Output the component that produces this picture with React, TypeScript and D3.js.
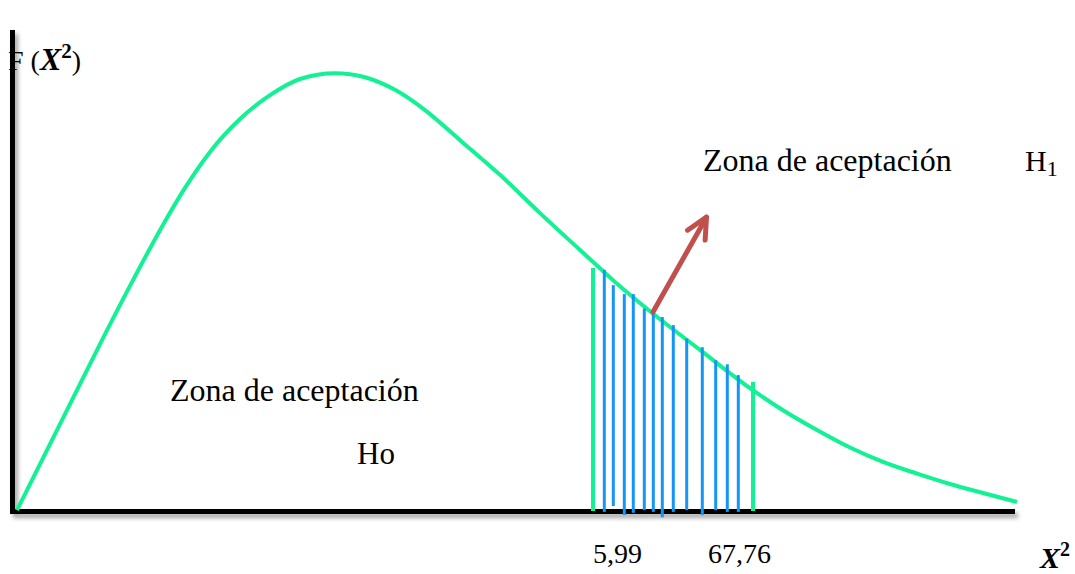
import React from "react";
import * as d3 from "d3";

// Density curve F(X²) (abstract units)
const curveX = [2, 45, 85, 118, 145, 170, 195, 225, 255, 285, 320, 350, 380, 410, 445, 485, 525, 565, 600, 635, 685, 735, 768, 802, 835, 868, 902, 935, 968, 1002];
const curveY = [0.2, 19.3, 37.1, 51.3, 62.4, 71.8, 79.8, 87.1, 92.4, 96.0, 97.3, 96.4, 93.6, 89.1, 82.4, 74.7, 66.2, 58.0, 50.9, 44.4, 35.8, 27.3, 22.4, 18.0, 14.1, 10.9, 8.3, 6.0, 4.0, 2.0];

// Boundaries of the rejection region (green)
const boundaryX = [578, 738];
const boundaryTop = [54.0, 28.7];

// Hatch lines (blue)
const hatchX = [589.3, 598.3, 609.3, 618.3, 629.3, 638.3, 647.3, 658.3, 671.7, 687.3, 700.7, 712.3, 723.3];
const hatchTop = [53.6, 50.2, 48.2, 48.2, 45.0, 44.6, 43.1, 41.3, 38.3, 36.4, 33.5, 32.6, 30.2];
const hatchBottom = [-0.2, 1.1, -0.9, -0.4, 0.2, -0.2, -1.4, -0.2, 0.2, -0.9, 0.2, -0.2, -0.2];

// Arrow (from curve to upper label)
const arrowFrom = [638, 44.2];
const arrowTo = [691.5, 65.3];

// Tick labels
const tickLabels = ["5,99", "67,76"];
const tickLabelX = [578, 693];

const W = 1075;
const H = 574;

export default function App() {
  const x = d3.scaleLinear().domain([0, 1000]).range([15, 1015]);
  const y = d3.scaleLinear().domain([0, 100]).range([511, 61]);

  const line = d3
    .line<number>()
    .x((_, i) => x(curveX[i]))
    .y((d) => y(d))
    .curve(d3.curveMonotoneX);

  const green = "#12f294";
  const blue = "#1596f5";
  const arrowColor = "#c0504d";

  const ax0 = x(arrowFrom[0]);
  const ay0 = y(arrowFrom[1]);
  const ax1 = x(arrowTo[0]);
  const ay1 = y(arrowTo[1]);
  const ang = Math.atan2(ay0 - ay1, ax0 - ax1);
  const armLen = 23;
  const spread = (26 * Math.PI) / 180;
  const arm1 = [ax1 + armLen * Math.cos(ang + spread), ay1 + armLen * Math.sin(ang + spread)];
  const arm2 = [ax1 + armLen * Math.cos(ang - spread), ay1 + armLen * Math.sin(ang - spread)];

  const serif = "'Liberation Serif', 'Times New Roman', serif";

  return (
    <svg
      width={W}
      height={H}
      style={{ position: "absolute", left: 0, top: 0, background: "#fff" }}
    >
      <defs>
        <filter id="shadow" x="-10%" y="-10%" width="120%" height="130%">
          <feDropShadow dx="3" dy="4" stdDeviation="2" floodColor="#000" floodOpacity="0.35" />
        </filter>
      </defs>

      {/* axes */}
      <g filter="url(#shadow)">
        <line x1={12.5} y1={30} x2={12.5} y2={514} stroke="#000" strokeWidth={5} />
        <line x1={10} y1={511.5} x2={1015} y2={511.5} stroke="#000" strokeWidth={5} />
      </g>

      {/* curve */}
      <path d={line(curveY) || ""} fill="none" stroke={green} strokeWidth={4} />

      {/* boundaries */}
      {boundaryX.map((bx, i) => (
        <line key={"b" + i} x1={x(bx)} x2={x(bx)} y1={y(0)} y2={y(boundaryTop[i])} stroke={green} strokeWidth={4} />
      ))}

      {/* hatch */}
      {hatchX.map((hx, i) => (
        <line key={"h" + i} x1={x(hx)} x2={x(hx)} y1={y(hatchBottom[i])} y2={y(hatchTop[i])} stroke={blue} strokeWidth={3} />
      ))}

      {/* arrow */}
      <g stroke={arrowColor} strokeWidth={5} strokeLinecap="round" strokeLinejoin="round" fill="none">
        <line x1={ax0} y1={ay0} x2={ax1} y2={ay1} />
        <polyline points={`${arm1[0]},${arm1[1]} ${ax1},${ay1} ${arm2[0]},${arm2[1]}`} />
      </g>

      {/* texts */}
      <text x={8} y={70} fontFamily={serif} fontSize={28} fill="#000">
        F (<tspan fontWeight="bold" fontStyle="italic" fontSize={32}>X</tspan>
        <tspan fontWeight="bold" fontSize={21} dy={-12}>2</tspan>
        <tspan dy={12}>)</tspan>
      </text>

      <text x={703} y={171} fontFamily={serif} fontSize={32} fill="#000">Zona de aceptación</text>
      <text x={1025} y={171} fontFamily={serif} fontSize={30} fill="#000">
        H<tspan fontSize={22} dy={5}>1</tspan>
      </text>

      <text x={170} y={401} fontFamily={serif} fontSize={32} fill="#000">Zona de aceptación</text>
      <text x={357} y={464} fontFamily={serif} fontSize={31} fill="#000">Ho</text>

      {tickLabels.map((t, i) => (
        <text key={"t" + i} x={x(tickLabelX[i])} y={563} fontFamily={serif} fontSize={28} fill="#000">
          {t}
        </text>
      ))}

      <text x={1040} y={568} fontFamily={serif} fontSize={30} fill="#000">
        <tspan fontWeight="bold" fontStyle="italic">X</tspan>
        <tspan fontWeight="bold" fontSize={20} dy={-12}>2</tspan>
      </text>
    </svg>
  );
}
